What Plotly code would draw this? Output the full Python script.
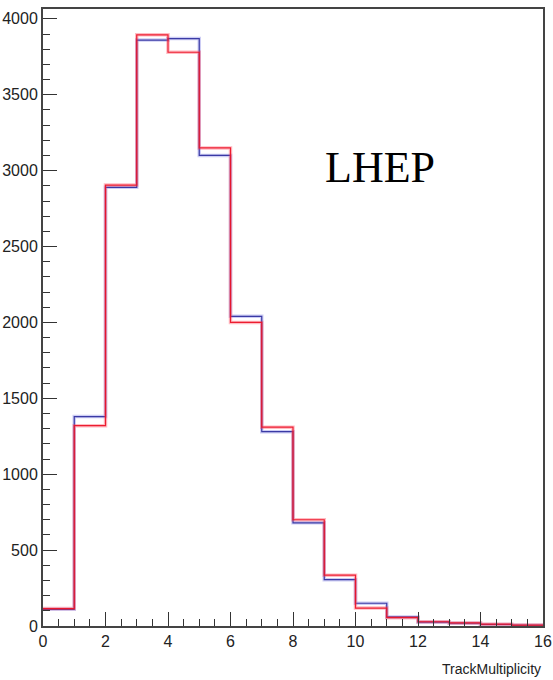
import plotly.graph_objects as go

bin_edges = list(range(0, 17))
blue_counts = [110, 1380, 2890, 3860, 3870, 3100, 2040, 1280, 680, 305, 150, 60, 25, 18, 10, 5]
red_counts = [115, 1320, 2905, 3895, 3780, 3150, 2000, 1310, 700, 335, 118, 55, 28, 20, 12, 6]
x_title = "TrackMultiplicity"
label_text = "LHEP"

def step(counts):
    xs = list(bin_edges)
    ys = list(counts) + [counts[-1]]
    return xs, ys

fig = go.Figure()
for counts, halo, core in [(blue_counts, "rgba(90,90,220,0.30)", "rgba(50,50,160,0.95)"),
                           (red_counts, "rgba(255,60,80,0.35)", "rgba(235,20,40,0.95)")]:
    xs, ys = step(counts)
    fig.add_trace(go.Scatter(x=xs, y=ys, mode="lines", line=dict(shape="hv", color=halo, width=3.5),
                             hoverinfo="skip", showlegend=False))
    fig.add_trace(go.Scatter(x=xs, y=ys, mode="lines", line=dict(shape="hv", color=core, width=1.2),
                             showlegend=False))

tickfont = dict(family="Liberation Sans Narrow, Liberation Sans, Arial", size=16, color="#222")
fig.update_layout(
    width=553, height=680,
    margin=dict(l=43, r=10, t=9, b=54),
    paper_bgcolor="white", plot_bgcolor="white",
    xaxis=dict(range=[0, 16], dtick=2, tick0=0, ticks="inside", ticklen=14, tickwidth=1.2,
               tickcolor="#333", showline=True, linecolor="#444", linewidth=2, mirror=True,
               showgrid=False, zeroline=False, tickfont=tickfont, automargin=False,
               minor=dict(ticks="inside", ticklen=7, dtick=0.5, tickcolor="#333", tickwidth=1.2)),
    yaxis=dict(range=[0, 4065], dtick=500, tick0=0, ticks="inside", ticklen=14, tickwidth=1.2,
               tickcolor="#333", showline=True, linecolor="#444", linewidth=2, mirror=True,
               showgrid=False, zeroline=False, tickfont=tickfont, automargin=False,
               minor=dict(ticks="inside", ticklen=7, dtick=100, tickcolor="#333", tickwidth=1.2)),
    annotations=[
        dict(text=x_title, xref="paper", yref="paper", x=1.0, y=-0.053, xanchor="right", yanchor="top",
             showarrow=False, font=dict(family="Liberation Sans Narrow, Liberation Sans, Arial", size=14, color="#222")),
        dict(text=label_text, xref="x", yref="y", x=10.78, y=3020, xanchor="center", yanchor="middle",
             showarrow=False, font=dict(family="Liberation Serif, DejaVu Serif, serif", size=44, color="black")),
    ],
)
fig.write_html("out.html")
